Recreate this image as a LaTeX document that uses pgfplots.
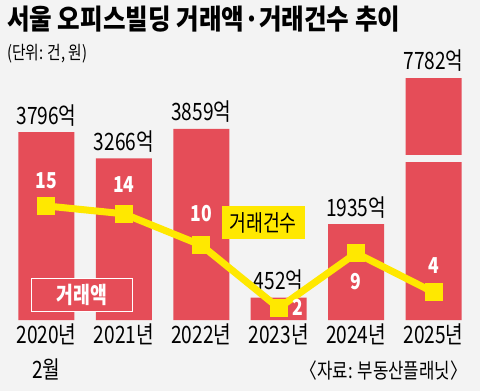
\documentclass[border=0pt]{standalone}
\usepackage{fontspec}
\usepackage{pgfplots}
\pgfplotsset{compat=1.18}
\usepackage{pgfplotstable}
\newfontfamily\kr{Noto Sans CJK KR}
\newfontfamily\krc[FakeStretch=0.8]{Noto Sans CJK KR}
\newfontfamily\krt[FakeStretch=0.88]{Noto Sans CJK KR}
\definecolor{bg}{RGB}{243,243,243}
\definecolor{barred}{RGB}{229,77,88}
\definecolor{lineyel}{RGB}{255,232,0}

\pgfplotstableread{
x amount label
0 3796 3796억
1 3266 3266억
2 3859 3859억
3 452 452억
4 1935 1935억
5 7782 7782억
}\amounttab

\pgfplotstableread{
x cnt dx dy
0 15 0 25
1 14 0 29
2 10 0 32
3 2 19 1
4 9 0 -28
5 4 0 27
}\counttab

\begin{document}
\begin{tikzpicture}
\fill[bg] (0bp,0bp) rectangle (480bp,391bp);
\begin{axis}[
  at={(0bp,71bp)}, anchor=south west,
  scale only axis, width=480bp, height=320bp,
  xmin=-0.6, xmax=5.6, ymin=0, ymax=6465,
  clip=false,
  axis line style={draw=none}, tick style={draw=none},
  ytick=\empty,
  xtick={0,1,2,3,4,5},
  xticklabels={{2020년\\2월},2021년,2022년,2023년,2024년,2025년},
  xticklabel style={font=\krc\fontsize{24}{35}\selectfont, align=center, anchor=north, inner sep=0pt, yshift=-4bp},
  restrict y to domain*=0:4889,
]
\addplot[ybar, bar width=56bp, fill=barred, draw=none,
  point meta=explicit symbolic,
  nodes near coords,
  every node near coord/.append style={font=\krc\fontsize{24}{26}\selectfont, text=black, anchor=south, inner sep=0pt, yshift=6bp}]
  table[x=x, y=amount, meta=label] {\amounttab};
\end{axis}
\fill[bg] (400bp,229bp) rectangle (468bp,236bp);
\begin{axis}[
  at={(0bp,71bp)}, anchor=south west,
  scale only axis, width=480bp, height=320bp,
  xmin=-0.6, xmax=5.6, ymin=0.471, ymax=41.24,
  hide axis, clip=false,
]
\addplot[lineyel, line width=7bp, mark=square*, mark size=8.5bp,
  mark options={fill=lineyel, draw=lineyel, line width=0pt},
  point meta=explicit symbolic,
  visualization depends on={\thisrow{dx}\as\labdx},
  visualization depends on={\thisrow{dy}\as\labdy},
  nodes near coords,
  every node near coord/.append style={font=\krc\bfseries\fontsize{22}{24}\selectfont, text=white, anchor=center, inner sep=0pt, xshift=\labdx*1bp, yshift=\labdy*1bp}]
  table[x=x, y=cnt, meta=cnt] {\counttab};
\end{axis}
% series labels
\node[fill=lineyel, minimum width=83bp, minimum height=33bp, inner sep=0pt, font=\krc\fontsize{23}{24}\selectfont] at (263bp,168bp) {거래건수};
\node[fill=barred, draw=white, line width=1.5bp, minimum width=101bp, minimum height=33bp, inner sep=0pt, text=white, font=\krc\bfseries\fontsize{23}{24}\selectfont] at (82bp,96bp) {거래액};
% titles
\node[anchor=base west, inner sep=0pt, font=\krt\bfseries\fontsize{28}{30}\selectfont] at (7bp,361bp) {서울 오피스빌딩 거래액·거래건수 추이};
\node[anchor=base west, inner sep=0pt, font=\krc\fontsize{18.5}{20}\selectfont] at (7bp,331bp) {(단위: 건, 원)};
\node[anchor=base east, inner sep=0pt, font=\krc\fontsize{21}{22}\selectfont] at (467bp,13bp) {〈자료: 부동산플래닛〉};
\end{tikzpicture}
\end{document}
